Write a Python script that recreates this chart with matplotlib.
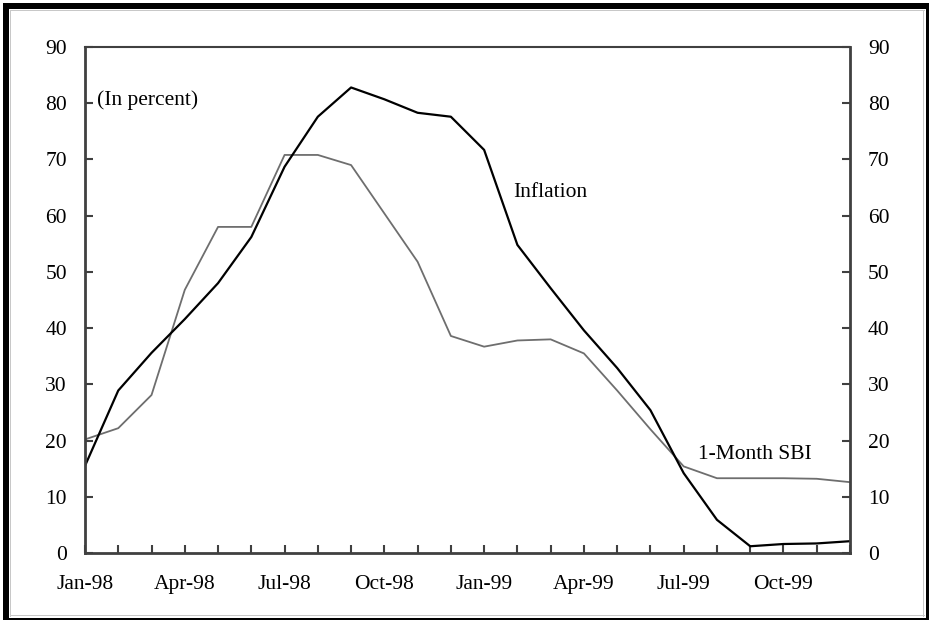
import matplotlib.pyplot as plt
from matplotlib.patches import Rectangle

months = ["Jan-98", "Feb-98", "Mar-98", "Apr-98", "May-98", "Jun-98",
          "Jul-98", "Aug-98", "Sep-98", "Oct-98", "Nov-98", "Dec-98",
          "Jan-99", "Feb-99", "Mar-99", "Apr-99", "May-99", "Jun-99",
          "Jul-99", "Aug-99", "Sep-99", "Oct-99", "Nov-99", "Dec-99"]
inflation = [15.5, 28.9, 35.6, 41.6, 48.0, 56.2, 68.7, 77.6, 82.8, 80.7, 78.3, 77.6,
             71.7, 54.8, 47.1, 39.6, 32.9, 25.4, 14.2, 5.9, 1.2, 1.6, 1.7, 2.1]
sbi = [20.2, 22.2, 28.1, 46.8, 58.0, 58.0, 70.8, 70.8, 69.0, 60.4, 51.8, 38.6,
       36.7, 37.8, 38.0, 35.5, 28.9, 22.0, 15.4, 13.3, 13.3, 13.3, 13.2, 12.6]
yticks = [0, 10, 20, 30, 40, 50, 60, 70, 80, 90]

plt.rcParams['font.family'] = ['Liberation Serif', 'DejaVu Serif']
W, H = 930, 621

fig = plt.figure(figsize=(9.3, 6.21), dpi=100)
ax = fig.add_axes([85/W, 1 - 553/H, 765/W, 506/H])

x = range(len(months))
ax.plot(x, sbi, color='#6e6e6e', lw=1.3)
ax.plot(x, inflation, color='black', lw=1.6)

ax.set_xlim(0, len(months) - 1)
ax.set_ylim(0, 90)
ax.set_xticks(list(x))
ax.set_xticklabels([m if i % 3 == 0 else "" for i, m in enumerate(months)])
ax.set_yticks(yticks)
ax.tick_params(axis='both', direction='in', length=6, width=1.5, color='#404040',
               labelsize=15.5, colors='black')
ax.tick_params(axis='x', pad=16)
ax.tick_params(axis='y', pad=13, right=True, labelright=True)

for side in ['left', 'bottom', 'right']:
    ax.spines[side].set_linewidth(2)
    ax.spines[side].set_color('#404040')
ax.spines['top'].set_linewidth(1.5)
ax.spines['top'].set_color('#404040')

ax.text(0.36, 80.6, "(In percent)", fontsize=15.5, va='center', ha='left')
ax.text(12.86, 64.2, "Inflation", fontsize=15.5, va='center', ha='left')
ax.text(18.43, 17.6, "1-Month SBI", fontsize=15.5, va='center', ha='left')

# outer frame: heavy left/top, light right/bottom, thin grey inner line
def box(x0, y0, x1, y1, c):
    fig.add_artist(Rectangle((x0/W, 1 - y1/H), (x1 - x0)/W, (y1 - y0)/H,
                             transform=fig.transFigure, color=c, lw=0))

box(10, 10, 925, 11, '#c8c8c8')
box(10, 10, 11, 617, '#c8c8c8')
box(923, 10, 924, 617, '#c8c8c8')
box(10, 615, 925, 616, '#c8c8c8')
box(3, 3, 9, 620, 'black')
box(3, 3, 929, 9, 'black')
box(926, 3, 929, 620, 'black')
box(3, 618, 929, 620, 'black')

fig.savefig("out.png", dpi=100)
